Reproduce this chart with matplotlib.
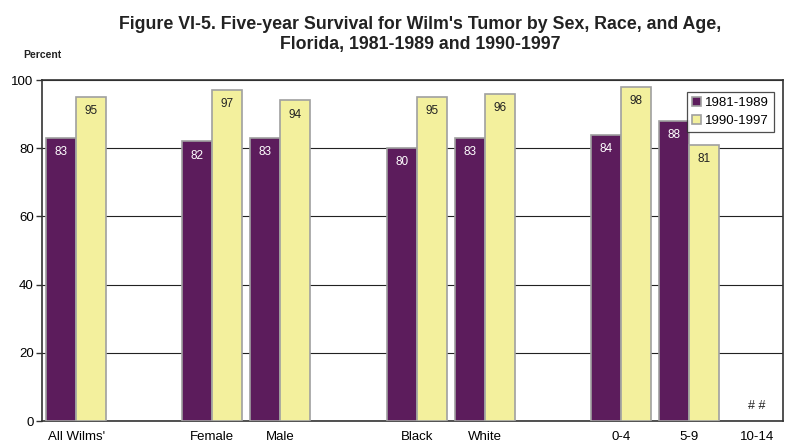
import numpy as np
import matplotlib.pyplot as plt

plt.rcParams['font.family'] = ['Liberation Sans', 'DejaVu Sans']

# --- data ---
categories = ["All Wilms'", "", "Female", "Male", "", "Black", "White", "", "0-4", "5-9", "10-14"]
surv_1981_1989 = [83, None, 82, 83, None, 80, 83, None, 84, 88, None]
surv_1990_1997 = [95, None, 97, 94, None, 95, 96, None, 98, 81, None]
series_names = ["1981-1989", "1990-1997"]
suppressed_label = "# #"

purple = "#5c1c5c"
yellow = "#f3f09d"
edge = "#a0a0a0"

fig = plt.figure(figsize=(7.96, 4.44), dpi=100)
ax = fig.add_axes([0.0528, 0.0518, 0.9309, 0.768])

x = np.arange(len(categories))
w = 0.44

def clean(vals):
    return [np.nan if v is None else v for v in vals]

b1 = ax.bar(x - w / 2, clean(surv_1981_1989), w, color=purple, edgecolor=edge, linewidth=1.2,
            label=series_names[0], zorder=3)
b2 = ax.bar(x + w / 2, clean(surv_1990_1997), w, color=yellow, edgecolor=edge, linewidth=1.2,
            label=series_names[1], zorder=3)

for xi, v in zip(x, surv_1981_1989):
    if v is not None:
        ax.text(xi - w / 2, v - 2.4, str(v), ha='center', va='top', fontsize=8.5, color='white', zorder=4)
for xi, v in zip(x, surv_1990_1997):
    if v is not None:
        ax.text(xi + w / 2, v - 2.4, str(v), ha='center', va='top', fontsize=8.5, color='#222222', zorder=4)

# 10-14 group has no published value
ax.text(x[-1], 2.5, suppressed_label, ha='center', va='bottom', fontsize=9, color='#222222')

ax.set_xlim(-0.5, 10.38)
ax.set_ylim(0, 100)
ax.set_yticks([0, 20, 40, 60, 80, 100])
ax.tick_params(axis='y', labelsize=9.5, length=4, width=1, color='#333333', pad=2)
ax.set_xticks(x)
ax.set_xticklabels(categories, fontsize=9.5)
ax.tick_params(axis='x', length=0, pad=7)
ax.yaxis.grid(True, color='#222222', linewidth=0.8, zorder=0)
ax.set_axisbelow(True)
for s in ax.spines.values():
    s.set_color('#333333')
    s.set_linewidth(1.2)

leg = ax.legend(loc='upper right', fontsize=9.5, frameon=True, fancybox=False,
                edgecolor='#222222', handlelength=0.7, handleheight=0.7,
                handletextpad=0.3, borderpad=0.4, labelspacing=0.4,
                bbox_to_anchor=(0.997, 0.985))
leg.get_frame().set_linewidth(0.9)

fig.text(0.528, 0.965, "Figure VI-5. Five-year Survival for Wilm's Tumor by Sex, Race, and Age,\nFlorida, 1981-1989 and 1990-1997",
         ha='center', va='top', fontsize=12.8, fontweight='bold', color='#222222', linespacing=1.3)
fig.text(0.029, 0.876, "Percent", ha='left', va='center', fontsize=7.5, fontweight='bold', color='#222222')

fig.savefig("out.png", dpi=100)
